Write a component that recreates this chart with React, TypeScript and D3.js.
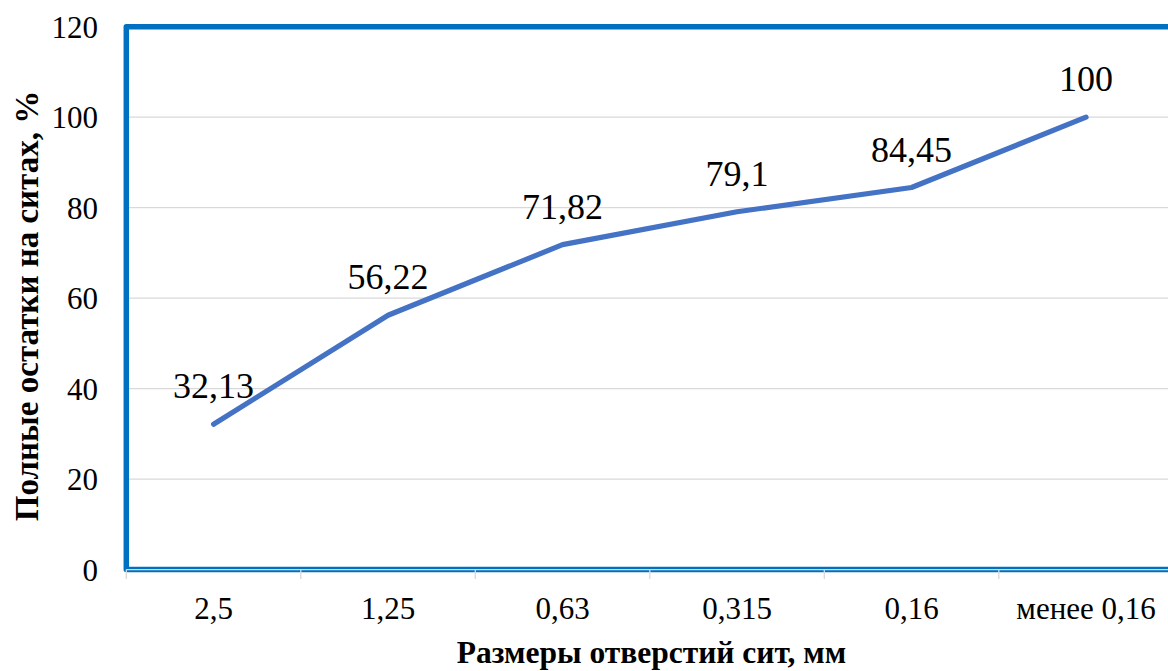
import React from "react";
import * as d3 from "d3";

// Sieve sizes and cumulative residues on each sieve
const categories: string[] = ["2,5", "1,25", "0,63", "0,315", "0,16", "менее 0,16"];
const residues: number[] = [32.13, 56.22, 71.82, 79.1, 84.45, 100];
const yTicks: number[] = [0, 20, 40, 60, 80, 100, 120];

const xTitle = "Размеры отверстий сит, мм";
const yTitle = "Полные остатки на ситах, %";

const W = 1168;
const H = 671;
const plot = { left: 126.3, top: 26.7, bottom: 569.6, step: 174.5 };
const FONT = "Liberation Serif, Times New Roman, DejaVu Serif, serif";
const LINE = "#4472C4";
const FRAME = "#0070C0";
const GRID = "#D9D9D9";

const fmt = (v: number) => String(v).replace(".", ",");
const txt = { fontFamily: FONT } as React.CSSProperties;

export default function App() {
  const right = plot.left + plot.step * categories.length;
  const x = d3.scaleBand<string>().domain(categories).range([plot.left, right]).padding(0);
  const y = d3.scaleLinear().domain([0, 120]).range([plot.bottom, plot.top]);
  const cx = (c: string) => (x(c) ?? 0) + x.bandwidth() / 2;

  const line = d3
    .line<number>()
    .x((_, i) => cx(categories[i]))
    .y((d) => y(d));

  const tickXs = categories.map((c) => x(c) ?? 0);

  return (
    <svg
      width={W}
      height={H}
      style={{ position: "absolute", left: 0, top: 0, display: "block", background: "#fff" }}
    >
      {/* horizontal gridlines */}
      {yTicks
        .filter((t) => t > 0 && t < 120)
        .map((t) => (
          <line key={t} x1={plot.left} x2={right} y1={y(t)} y2={y(t)} stroke={GRID} strokeWidth={1.3} />
        ))}

      {/* plot area frame */}
      <rect
        x={plot.left}
        y={plot.top}
        width={right - plot.left}
        height={plot.bottom - plot.top}
        fill="none"
        stroke={FRAME}
        strokeWidth={5.5}
        strokeLinejoin="round"
      />

      {/* category axis line and tick marks */}
      <line x1={plot.left} x2={right} y1={y(0)} y2={y(0)} stroke={GRID} strokeWidth={1.3} />
      {tickXs.map((tx, i) => (
        <line key={i} x1={tx} x2={tx} y1={plot.bottom} y2={plot.bottom + 9.5} stroke={GRID} strokeWidth={1.3} />
      ))}

      {/* y tick labels */}
      {yTicks.map((t) => (
        <text key={t} x={98} y={y(t) + 11} textAnchor="end" fontSize={31} fill="#000" style={txt}>
          {t}
        </text>
      ))}

      {/* x tick labels */}
      {categories.map((c) => (
        <text key={c} x={cx(c)} y={618.5} textAnchor="middle" fontSize={31} fill="#000" style={txt}>
          {c}
        </text>
      ))}

      {/* data line */}
      <path d={line(residues) ?? ""} fill="none" stroke={LINE} strokeWidth={5.2} strokeLinecap="round" strokeLinejoin="round" />

      {/* data labels */}
      {residues.map((v, i) => (
        <text key={i} x={cx(categories[i])} y={y(v) - 26} textAnchor="middle" fontSize={36} fill="#000" style={txt}>
          {fmt(v)}
        </text>
      ))}

      {/* axis titles */}
      <text x={651.5} y={663} textAnchor="middle" fontSize={31.5} fontWeight="bold" fill="#000" style={txt}>
        {xTitle}
      </text>
      <text
        transform="translate(38,306) rotate(-90)"
        textAnchor="middle"
        fontSize={33}
        fontWeight="bold"
        fill="#000"
        style={txt}
      >
        {yTitle}
      </text>
    </svg>
  );
}
